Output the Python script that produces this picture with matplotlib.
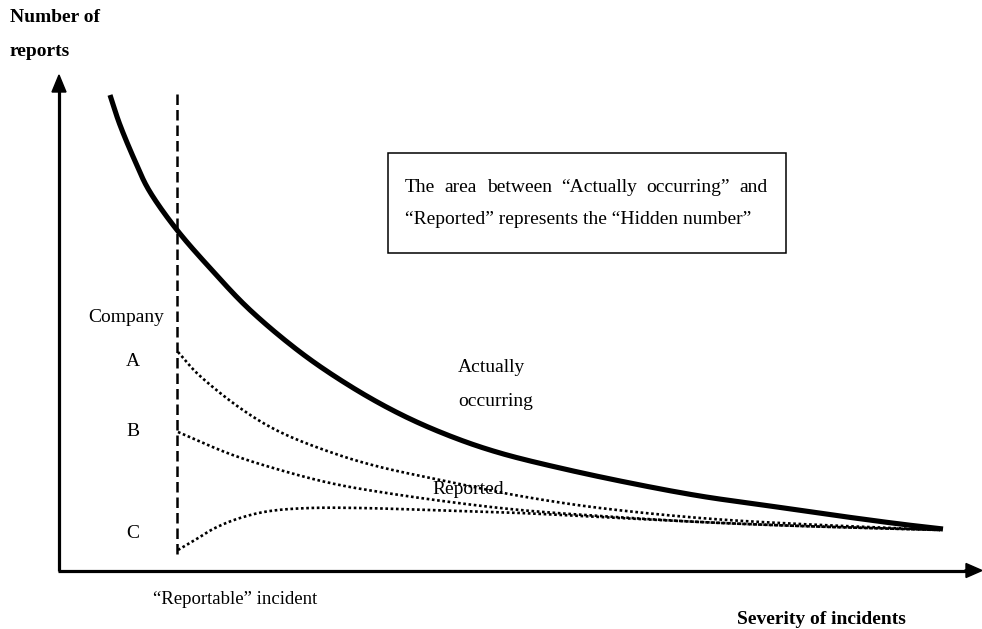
import numpy as np
import matplotlib
matplotlib.use("Agg")
import matplotlib.pyplot as plt
from matplotlib.patches import FancyArrow, Rectangle

# Curves (x = severity position, y = screen position, top = 0)
actual_x = [110, 120, 135, 150, 177, 210, 250, 300, 350, 400, 450, 500, 560, 630, 700, 770, 840, 900, 943]
actual_y = [95, 125, 161, 192, 230, 268, 310, 352, 386, 414, 436, 453, 468, 483, 496, 506, 516, 524, 529]

a_x = [178, 200, 240, 280, 330, 380, 450, 520, 600, 700, 800, 940]
a_y = [352, 376, 408, 432, 452, 467, 482, 496, 508, 518, 524, 530]

b_x = [178, 230, 280, 330, 380, 450, 520, 600, 700, 800, 940]
b_y = [432, 454, 470, 483, 492, 502, 510, 516, 522, 526, 530]

c_x = [178, 195, 215, 240, 270, 310, 360, 430, 520, 600, 700, 800, 940]
c_y = [550, 540, 528, 518, 511, 508, 508, 510, 513, 517, 522, 526, 530]

company_labels = ["A", "B", "C"]
company_label_y = [362, 432, 533]

box_line1 = ["The", "area", "between", "\u201cActually", "occurring\u201d", "and"]
box_line2 = "\u201cReported\u201d represents the \u201cHidden number\u201d"


def smooth(xs, ys, n=24):
    p = np.column_stack([xs, ys]).astype(float)
    p = np.vstack([2 * p[0] - p[1], p, 2 * p[-1] - p[-2]])
    out = []
    for i in range(1, len(p) - 2):
        p0, p1, p2, p3 = p[i - 1], p[i], p[i + 1], p[i + 2]
        t = np.linspace(0, 1, n, endpoint=False)[:, None]
        seg = 0.5 * ((2 * p1) + (-p0 + p2) * t + (2 * p0 - 5 * p1 + 4 * p2 - p3) * t ** 2
                     + (-p0 + 3 * p1 - 3 * p2 + p3) * t ** 3)
        out.append(seg)
    out.append(p[-2][None, :])
    out = np.vstack(out)
    return out[:, 0], out[:, 1]


W, H = 982, 629
fig = plt.figure(figsize=(W / 100, H / 100), dpi=100)
ax = fig.add_axes([0, 0, 1, 1])
ax.set_xlim(0, W)
ax.set_ylim(H, 0)
ax.axis("off")

serif = ["Liberation Serif", "DejaVu Serif"]
FS = 14

# axes with arrows
ax.plot([59, 59], [571, 88], color="black", lw=2.3, solid_capstyle="butt")
ax.add_patch(FancyArrow(59, 92, 0, -17, width=0, head_width=14, head_length=17,
                        length_includes_head=True, color="black"))
ax.plot([58, 968], [570.5, 570.5], color="black", lw=2.3, solid_capstyle="butt")
ax.add_patch(FancyArrow(964, 570.5, 18, 0, width=0, head_width=14, head_length=16,
                        length_includes_head=True, color="black"))

# reportable threshold
ax.plot([177, 177], [94, 556], color="black", lw=1.8, linestyle=(0, (4.2, 2.0)))

# actual curve
sx, sy = smooth(actual_x, actual_y)
ax.plot(sx, sy, color="black", lw=3.7, solid_capstyle="butt")

# reported curves
for xs, ys in [(a_x, a_y), (b_x, b_y), (c_x, c_y)]:
    sx, sy = smooth(xs, ys)
    ax.plot(sx, sy, color="black", lw=1.9, linestyle=(0, (1, 1)))

# texts
ax.text(10, 18, "Number of", family=serif, fontsize=FS, fontweight="bold", va="center", ha="left")
ax.text(10, 52, "reports", family=serif, fontsize=FS, fontweight="bold", va="center", ha="left")
ax.text(126, 317, "Company", family=serif, fontsize=FS, va="center", ha="center")
for lab, yy in zip(company_labels, company_label_y):
    ax.text(133, yy, lab, family=serif, fontsize=FS, va="center", ha="center")
ax.text(458, 367, "Actually", family=serif, fontsize=FS, va="center", ha="left")
ax.text(458, 402, "occurring", family=serif, fontsize=FS, va="center", ha="left")
ax.text(432, 489, "Reported", family=serif, fontsize=FS, va="center", ha="left")
ax.text(153, 600, "\u201cReportable\u201d incident", family=serif, fontsize=FS - 0.5, va="center", ha="left")
ax.text(737, 619, "Severity of incidents", family=serif, fontsize=FS, fontweight="bold",
        va="center", ha="left")

# box
ax.add_patch(Rectangle((388, 153), 398, 100, fill=False, edgecolor="black", lw=1.1))

# justified first line between x=405 and x=768
renderer = fig.canvas.get_renderer()
objs = [ax.text(0, 187, w, family=serif, fontsize=FS, va="center", ha="left") for w in box_line1]
widths = [o.get_window_extent(renderer).width for o in objs]
left, right = 405, 768
gap = (right - left - sum(widths)) / (len(objs) - 1)
x = left
for o, w in zip(objs, widths):
    o.set_x(x)
    x += w + gap
ax.text(405, 220, box_line2, family=serif, fontsize=FS, va="center", ha="left")

fig.savefig("out.png", dpi=100)
